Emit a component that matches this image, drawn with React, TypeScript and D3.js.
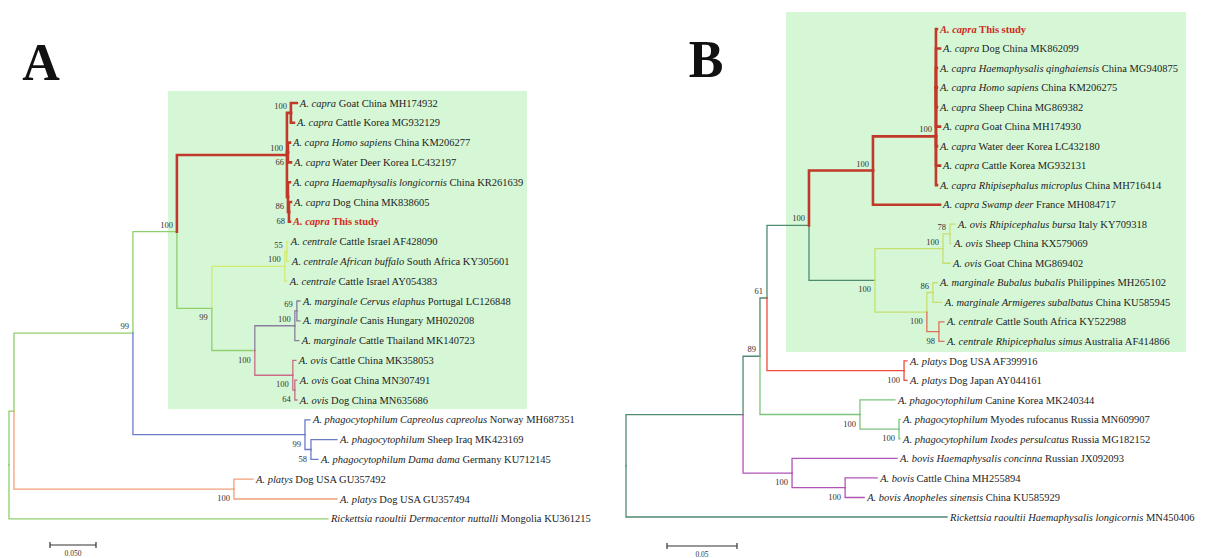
import React, { useMemo } from "react";
import * as d3 from "d3";

// ---------- DATA ----------
// Leaf labels: text between underscores is italic
const leavesA: string[] = [
  "_A. capra_ Goat China MH174932",
  "_A. capra_ Cattle Korea MG932129",
  "_A. capra Homo sapiens_ China KM206277",
  "_A. capra_ Water Deer Korea LC432197",
  "_A. capra Haemaphysalis longicornis_ China KR261639",
  "_A. capra_ Dog China MK838605",
  "_A. capra_ This study",
  "_A. centrale_ Cattle Israel AF428090",
  "_A. centrale African buffalo_ South Africa KY305601",
  "_A. centrale_ Cattle Israel AY054383",
  "_A. marginale Cervus elaphus_ Portugal LC126848",
  "_A. marginale_ Canis Hungary MH020208",
  "_A. marginale_ Cattle Thailand MK140723",
  "_A. ovis_ Cattle China MK358053",
  "_A. ovis_ Goat China MN307491",
  "_A. ovis_ Dog China MN635686",
  "_A. phagocytophilum Capreolus capreolus_ Norway MH687351",
  "_A. phagocytophilum_ Sheep Iraq MK423169",
  "_A. phagocytophilum Dama dama_ Germany KU712145",
  "_A. platys_ Dog USA GU357492",
  "_A. platys_ Dog USA GU357494",
  "_Rickettsia raoultii Dermacentor nuttalli_ Mongolia KU361215",
];
const highlightA: number[] = [6];

const leavesB: string[] = [
  "_A. capra_ This study",
  "_A. capra_ Dog China MK862099",
  "_A. capra Haemaphysalis qinghaiensis_ China MG940875",
  "_A. capra Homo sapiens_ China KM206275",
  "_A. capra_ Sheep China MG869382",
  "_A. capra_ Goat China MH174930",
  "_A. capra_ Water deer Korea LC432180",
  "_A. capra_ Cattle Korea MG932131",
  "_A. capra Rhipisephalus microplus_ China MH716414",
  "_A. capra Swamp deer_ France MH084717",
  "_A. ovis Rhipicephalus bursa_ Italy KY709318",
  "_A. ovis_ Sheep China KX579069",
  "_A. ovis_ Goat China MG869402",
  "_A. marginale Bubalus bubalis_ Philippines MH265102",
  "_A. marginale Armigeres subalbatus_ China KU585945",
  "_A. centrale_ Cattle South Africa KY522988",
  "_A. centrale Rhipicephalus simus_ Australia AF414866",
  "_A. platys_ Dog USA AF399916",
  "_A. platys_ Dog Japan AY044161",
  "_A. phagocytophilum_ Canine Korea MK240344",
  "_A. phagocytophilum_ Myodes rufocanus Russia MN609907",
  "_A. phagocytophilum Ixodes persulcatus_ Russia MG182152",
  "_A. bovis Haemaphysalis concinna_ Russian JX092093",
  "_A. bovis_ Cattle China MH255894",
  "_A. bovis Anopheles sinensis_ China KU585929",
  "_Rickettsia raoultii Haemaphysalis longicornis_ MN450406",
];
const highlightB: number[] = [0];

// Newick pieces (leaf index : branch length, internal label = bootstrap)
const A_capra = "((0:0.0065,1:0.0033)100:0.0043,(2:0.0022,3:0.0033)66:0.0011,(4:0.0022,(5:0.0022,6:0.0011)68:0.0011)86:0.0011)100:0.1196";
const A_centrale = "((7:0.0011,8:0.0022)55:0.0022,9:0.0022)100:0.0793";
const A_marginale = "((10:0.0033,11:0.0033)69:0.0022,12:0.0043)100:0.0435";
const A_ovis = "(13:0.0033,(14:0.0022,15:0.0022)64:0.0022)100:0.0413";
const A_phago = "(16:0.0054,(17:0.0283,18:0.0076)58:0.0065)99:0.1870";
const A_platys = "(19:0.0207,20:0.1120)100:0.2391";
const newickA = `(((((${A_capra},(${A_centrale},(${A_marginale},${A_ovis})100:0.0467)99:0.0380)100:0.0478,${A_phago})99:0.1293,${A_platys}):0.0054,21:0.3467);`;

const B_capra = "(((0:0.0007,1:0.0029,2:0.0007,3:0.0007,4:0.0007,5:0.0029,6:0.0007):0.0000,7:0.0029,8:0.0007)100:0.0450,9:0.0479)100:0.0457";
const B_ovis = "((10:0.0036,11:0.0007)78:0.0050,12:0.0050)100:0.0486";
const B_margcent = "((13:0.0029,14:0.0064)86:0.0043,(15:0.0036,16:0.0036)98:0.0086)100:0.0371";
const B_platys = "(17:0.0021,18:0.0021)100:0.0979";
const B_phago = "(19:0.0250,(20:0.0007,21:0.0007)100:0.0279)100:0.0714";
const B_bovis = "(22:0.0750,(23:0.0229,24:0.0136)100:0.0379)100:0.0350";
const newickB = `(((((${B_capra},(${B_ovis},${B_margcent})100:0.0471)100:0.0300,${B_platys})61:0.0050,${B_phago})89:0.0121,${B_bovis}):0.0836,25:0.2293);`;

// clade colours: [first leaf, last leaf, colour, width]
const cladeColorsA: [number, number, string, number][] = [
  [0, 6, "#c0392b", 2.6],
  [7, 9, "#d3eb6c", 1.3],
  [10, 12, "#8a7e9e", 1.3],
  [13, 15, "#c96c88", 1.3],
  [16, 18, "#6b7cc6", 1.3],
  [19, 20, "#f2a07a", 1.3],
];
const cladeColorsB: [number, number, string, number][] = [
  [0, 9, "#c0392b", 2.6],
  [10, 12, "#c6e070", 1.3],
  [13, 16, "#c6e070", 1.3],
  [15, 16, "#e0705e", 1.3],
  [17, 18, "#ee4b3b", 1.3],
  [19, 21, "#7cc47c", 1.3],
  [22, 24, "#b055b5", 1.3],
];

const scaleBarValueA = 0.05;
const scaleBarLabelA = "0.050";
const scaleBarValueB = 0.05;
const scaleBarLabelB = "0.05";

// ---------- PARSING / LAYOUT ----------
type PNode = { bl: number; bs?: number; leaf?: number; children?: PNode[] };

function parseNewick(s: string): PNode {
  let i = 0;
  function parseNode(): PNode {
    const node: PNode = { bl: 0 };
    if (s[i] === "(") {
      i++;
      node.children = [];
      for (;;) {
        node.children.push(parseNode());
        if (s[i] === ",") { i++; continue; }
        if (s[i] === ")") { i++; break; }
        break;
      }
    }
    let label = "";
    while (i < s.length && !",):;".includes(s[i])) label += s[i++];
    if (s[i] === ":") {
      i++;
      let num = "";
      while (i < s.length && !",);".includes(s[i])) num += s[i++];
      node.bl = parseFloat(num);
    }
    if (node.children) { if (label) node.bs = +label; } else node.leaf = +label;
    return node;
  }
  return parseNode();
}

const FONT = "'Liberation Serif', 'Times New Roman', serif";

function LeafLabel({ x, y, text, hl }: { x: number; y: number; text: string; hl: boolean }) {
  const parts = text.split("_").map((t, k) => ({ t, it: k % 2 === 1 })).filter(p => p.t.length);
  return (
    <text x={x} y={y} dy="0.35em" fontFamily={FONT} fontSize={10.5}
      fill={hl ? "#d12a22" : "#1c1c1c"} fontWeight={hl ? "bold" : "normal"}>
      {parts.map((p, k) => (
        <tspan key={k} fontStyle={p.it ? "italic" : "normal"}>{p.t}</tspan>
      ))}
    </text>
  );
}

type TreeProps = {
  newick: string; labels: string[]; highlight: number[];
  clades: [number, number, string, number][]; backbone: string;
  rootX: number; pxPerUnit: number; y0: number; step: number;
  barX: number; barY: number; barValue: number; barLabel: string;
};

function Tree(p: TreeProps) {
  const layout = useMemo(() => {
    const root = d3.hierarchy<PNode>(parseNewick(p.newick), d => d.children);
    const xs = d3.scaleLinear().domain([0, 1]).range([p.rootX, p.rootX + p.pxPerUnit]);
    const ys = d3.scaleLinear().domain([0, 1]).range([p.y0, p.y0 + p.step]);
    const dist = new Map<any, number>();
    const pos = new Map<any, { x: number; y: number }>();
    root.eachBefore(n => {
      const d = (n.parent ? dist.get(n.parent)! : 0) + (n.parent ? n.data.bl : 0);
      dist.set(n, d);
    });
    root.eachAfter(n => {
      let y: number;
      if (!n.children) y = ys(n.data.leaf!);
      else y = (pos.get(n.children[0])!.y + pos.get(n.children[n.children.length - 1])!.y) / 2;
      pos.set(n, { x: xs(dist.get(n)!), y });
    });
    // colours
    const col = new Map<any, { c: string; w: number }>();
    const own = new Map<any, { c: string; w: number }>();
    p.clades.forEach(([a, b, c, w]) => {
      let found: any = null;
      root.eachBefore(n => {
        if (found) return;
        const lv = n.leaves().map(l => l.data.leaf!);
        if (d3.min(lv) === a && d3.max(lv) === b && lv.length === b - a + 1) found = n;
      });
      if (found) own.set(found, { c, w });
    });
    root.eachBefore(n => {
      col.set(n, own.get(n) || (n.parent ? col.get(n.parent)! : { c: p.backbone, w: 1.3 }));
    });
    const nodes = root.descendants();
    const branches = nodes.filter(n => n.parent).map(n => {
      const pp = pos.get(n.parent)!, q = pos.get(n)!;
      return { d: `M${pp.x},${pp.y}V${q.y}H${q.x}`, ...col.get(n)! };
    }).sort((a, b) => a.w - b.w);
    const boots = nodes.filter(n => n.children && n.parent && n.data.bs != null).map(n => {
      const q = pos.get(n)!;
      const first = n.parent!.children![0] === n;
      return { x: q.x - 4, y: first ? q.y - 4 : q.y + 12, t: String(n.data.bs) };
    });
    const leaves = root.leaves().map(n => ({ ...pos.get(n)!, i: n.data.leaf! }));
    return { branches, boots, leaves, xs };
  }, [p]);

  const barLen = layout.xs(p.barValue) - layout.xs(0);
  return (
    <g>
      {layout.branches.map((b, k) => (
        <path key={k} d={b.d} fill="none" stroke={b.c} strokeWidth={b.w} strokeLinecap="square" />
      ))}
      {layout.boots.map((b, k) => (
        <text key={k} x={b.x} y={b.y} textAnchor="end" fontFamily={FONT} fontSize={8.5} fill="#333">{b.t}</text>
      ))}
      {layout.leaves.map(l => (
        <LeafLabel key={l.i} x={l.x + 3} y={l.y} text={p.labels[l.i]} hl={p.highlight.includes(l.i)} />
      ))}
      <g stroke="#333" strokeWidth={1.2}>
        <line x1={p.barX} x2={p.barX + barLen} y1={p.barY} y2={p.barY} />
        <line x1={p.barX} x2={p.barX} y1={p.barY - 3} y2={p.barY + 3} />
        <line x1={p.barX + barLen} x2={p.barX + barLen} y1={p.barY - 3} y2={p.barY + 3} />
      </g>
      <text x={p.barX + barLen / 2} y={p.barY + 11} textAnchor="middle" fontFamily={FONT} fontSize={7.5} fill="#333">{p.barLabel}</text>
    </g>
  );
}

export default function App() {
  return (
    <svg width={1209} height={558} style={{ position: "absolute", left: 0, top: 0, background: "#fff" }}>
      <rect x={168} y={91} width={359} height={318} fill="#d6f7d6" />
      <rect x={786} y={12} width={400} height={340} fill="#d6f7d6" />
      <text x={41} y={80} textAnchor="middle" fontFamily={FONT} fontWeight="bold" fontSize={52} fill="#111">A</text>
      <text x={706} y={77} textAnchor="middle" fontFamily={FONT} fontWeight="bold" fontSize={52} fill="#111">B</text>
      <Tree newick={newickA} labels={leavesA} highlight={highlightA} clades={cladeColorsA}
        backbone="#8fcf6c" rootX={9} pxPerUnit={920} y0={103} step={19.8}
        barX={50} barY={545} barValue={scaleBarValueA} barLabel={scaleBarLabelA} />
      <Tree newick={newickB} labels={leavesB} highlight={highlightB} clades={cladeColorsB}
        backbone="#4e8b70" rootX={626} pxPerUnit={1400} y0={29} step={19.52}
        barX={667} barY={546} barValue={scaleBarValueB} barLabel={scaleBarLabelB} />
    </svg>
  );
}
